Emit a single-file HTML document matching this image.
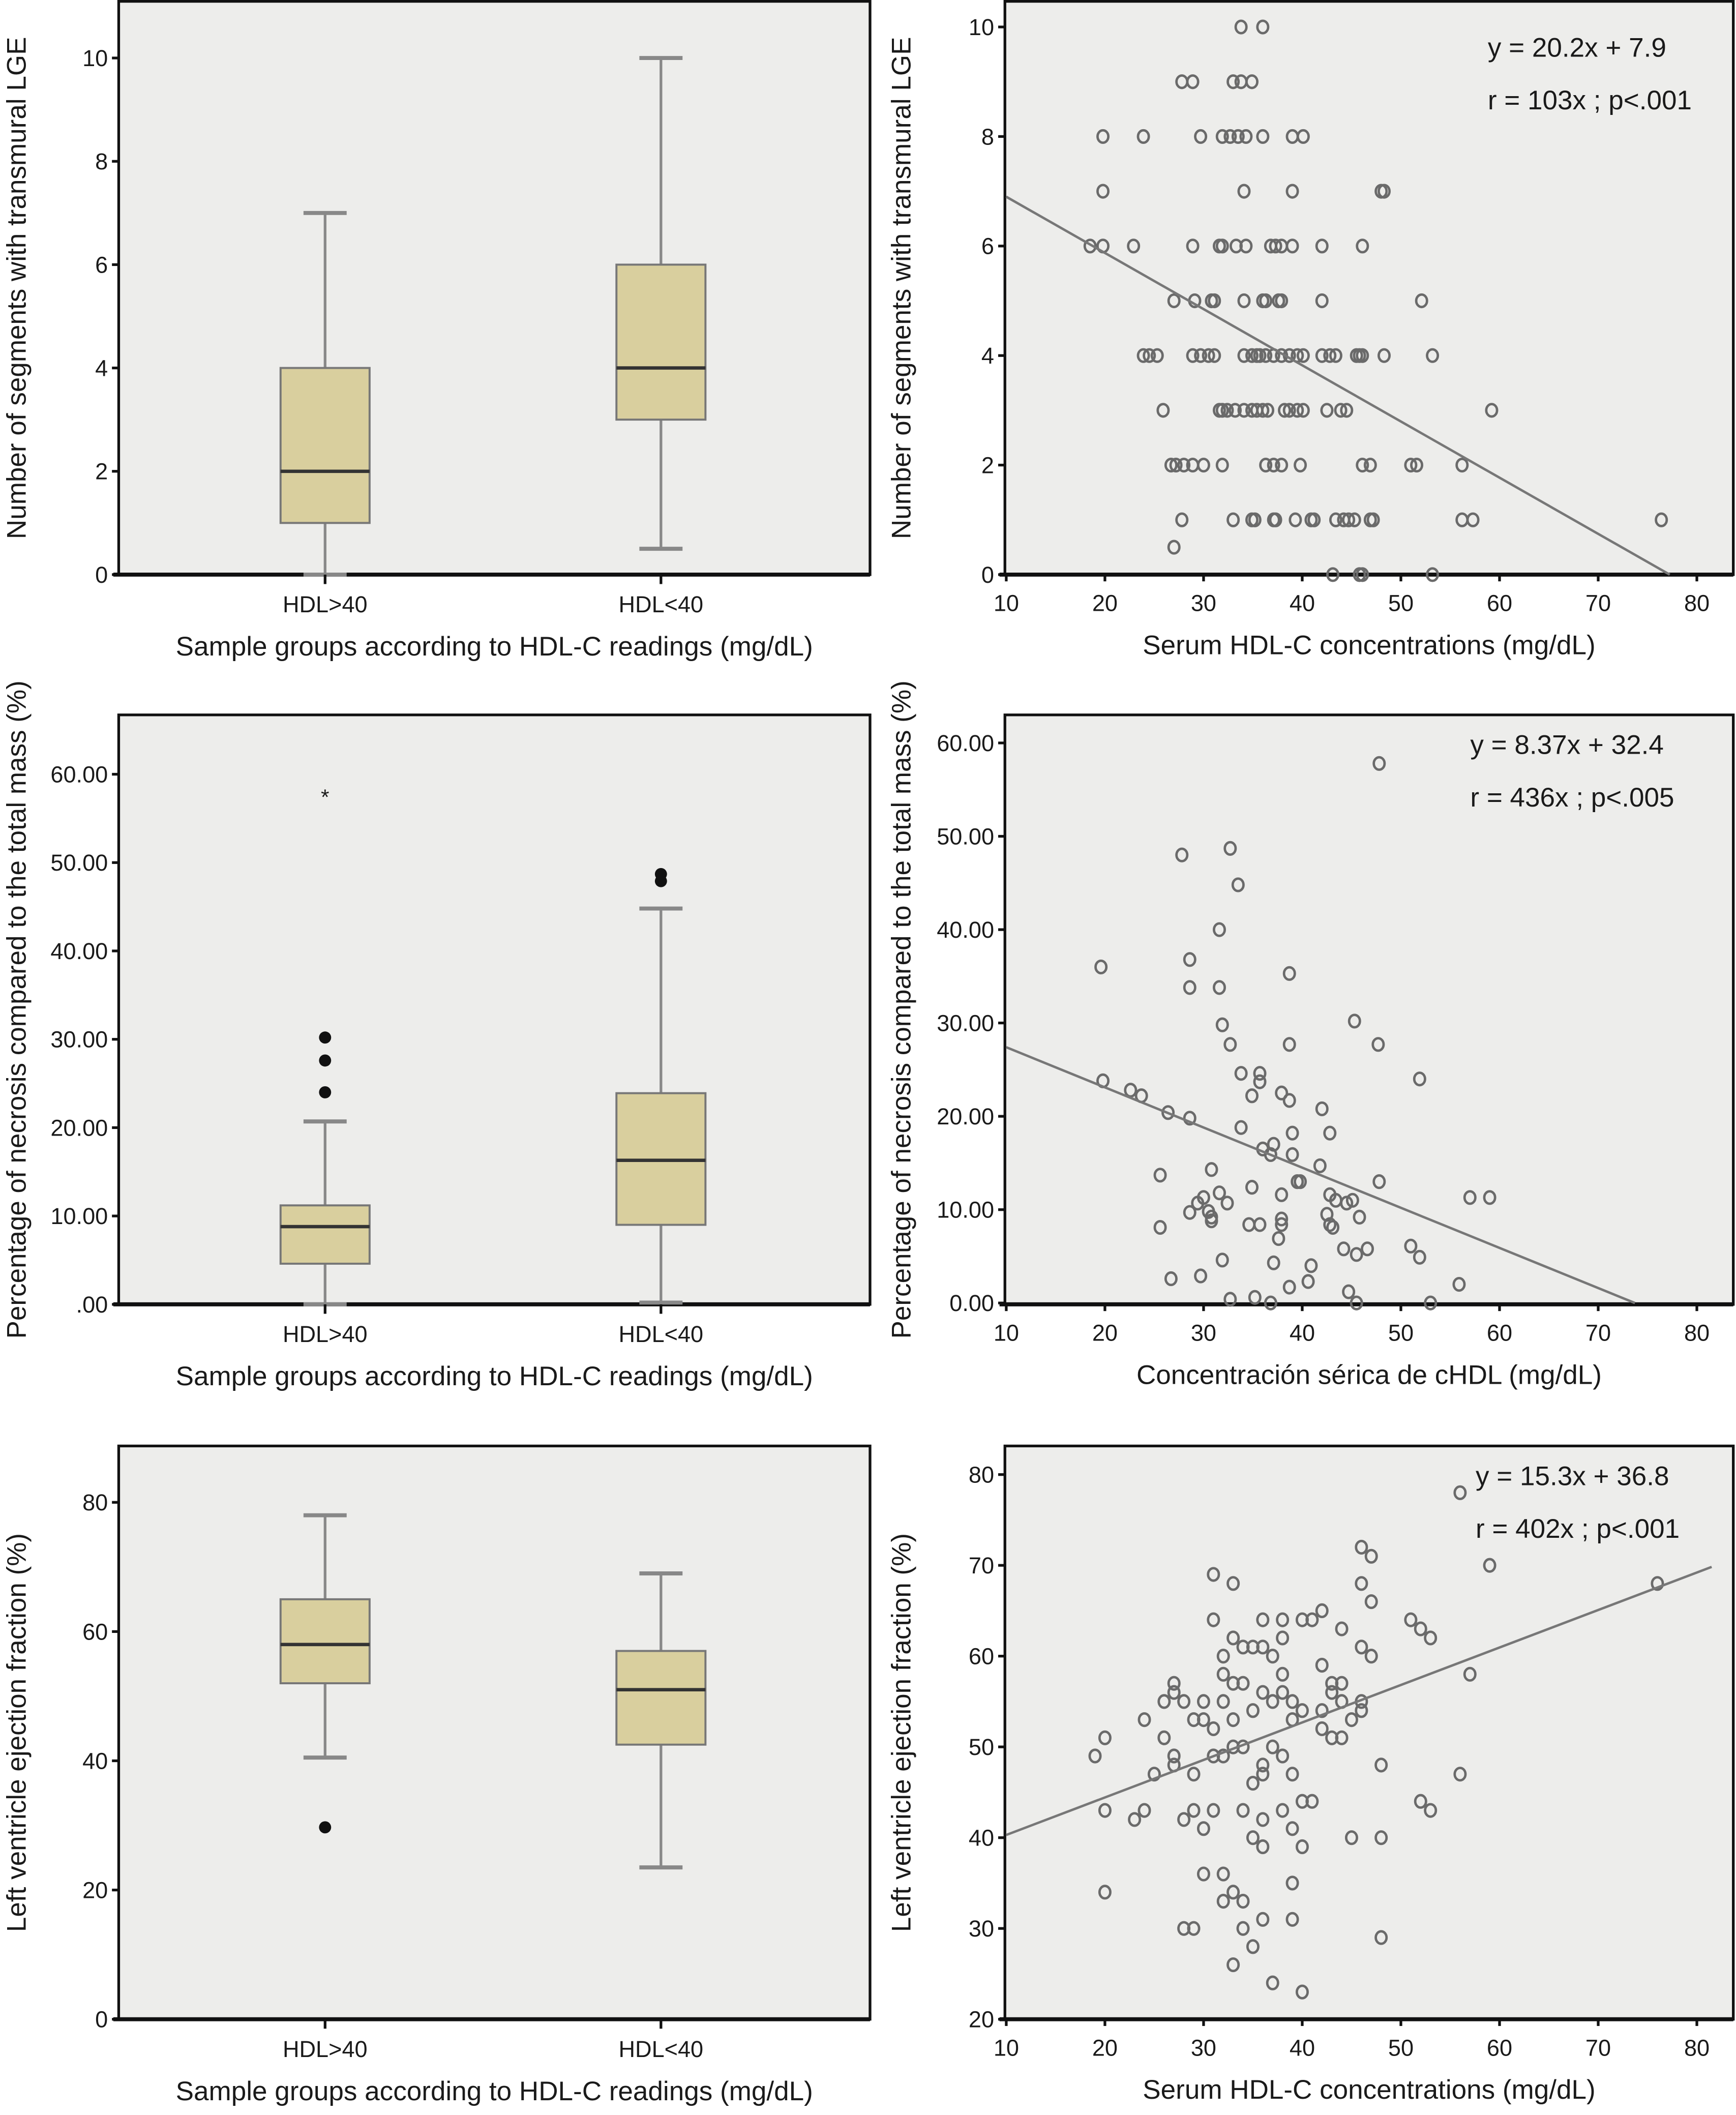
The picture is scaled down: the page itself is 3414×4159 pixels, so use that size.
<!DOCTYPE html>
<html><head><meta charset="utf-8"><style>
html,body{margin:0;padding:0;background:#fff;}
svg{display:block;}
text{font-family:"Liberation Sans",sans-serif;fill:#1a1a1a;}
</style></head>
<body>
<svg id="fig" width="3414" height="4159" viewBox="0 0 1287 1568" preserveAspectRatio="none" xmlns="http://www.w3.org/2000/svg"></svg>
<script>
// ---- Panel A: box plot LGE segments ----
const boxCats = ["HDL>40", "HDL<40"];
const lgeMin = [0, 0.5];
const lgeQ1 = [1, 3];
const lgeMed = [2, 4];
const lgeQ3 = [4, 6];
const lgeMax = [7, 10];
const lgeTicks = [0, 2, 4, 6, 8, 10];

// ---- Panel C: box plot necrosis ----
const necMin = [0, 0.2];
const necQ1 = [4.6, 9];
const necMed = [8.8, 16.3];
const necQ3 = [11.2, 23.9];
const necMax = [20.7, 44.8];
const necOutX = [0, 0, 0, 1, 1];
const necOutY = [24, 27.6, 30.2, 47.9, 48.7];
const necStarX = [0];
const necStarY = [57.8];
const necTicks = [0, 10, 20, 30, 40, 50, 60];
const necTickLabels = [".00", "10.00", "20.00", "30.00", "40.00", "50.00", "60.00"];

// ---- Panel E: box plot LVEF ----
const efMin = [40.5, 23.5];
const efQ1 = [52, 42.5];
const efMed = [58, 51];
const efQ3 = [65, 57];
const efMax = [78, 69];
const efOutX = [0];
const efOutY = [29.7];
const efTicks = [0, 20, 40, 60, 80];

// ---- Panel B: scatter LGE ----
const xTicks = [10, 20, 30, 40, 50, 60, 70, 80];
const lgeX = [33.8,36.0, 27.8,28.9,33.0,33.8,34.9,
 19.8,23.9,29.7,31.9,32.7,33.5,34.3,36.0,39.0,40.1,
 19.8,34.1,39.0,48.0,48.3,
 18.5,19.8,22.9,28.9,31.6,31.9,33.3,34.3,36.8,37.3,37.9,39.0,42.0,46.1,
 27.0,29.1,30.8,31.1,34.1,36.0,36.3,37.6,37.9,42.0,52.1,
 23.9,24.5,25.3,28.9,29.7,30.5,31.1,34.1,34.9,35.4,35.7,36.3,37.1,37.9,38.7,39.5,40.1,42.0,42.8,43.4,45.5,45.8,46.1,48.3,53.2,
 25.9,31.6,31.9,32.4,33.2,34.1,34.9,35.4,36.0,36.5,38.2,38.7,39.5,40.1,42.5,43.9,44.5,59.2,
 26.7,27.2,28.0,28.9,30.0,31.9,36.3,37.1,37.9,39.8,46.1,46.9,51.0,51.6,56.2,
 27.8,33.0,34.9,35.2,37.1,37.3,39.3,40.9,41.2,43.4,44.2,44.7,45.3,46.9,47.2,56.2,57.3,76.4,
 27.0, 43.1,45.8,46.1,53.2];
const lgeY = [10,10, 9,9,9,9,9,
 8,8,8,8,8,8,8,8,8,8,
 7,7,7,7,7,
 6,6,6,6,6,6,6,6,6,6,6,6,6,6,
 5,5,5,5,5,5,5,5,5,5,5,
 4,4,4,4,4,4,4,4,4,4,4,4,4,4,4,4,4,4,4,4,4,4,4,4,4,
 3,3,3,3,3,3,3,3,3,3,3,3,3,3,3,3,3,3,
 2,2,2,2,2,2,2,2,2,2,2,2,2,2,2,
 1,1,1,1,1,1,1,1,1,1,1,1,1,1,1,1,1,1,
 0.5, 0,0,0,0];
const lgeFit = [6.9, -0.1026];

// ---- Panel D: scatter necrosis ----
const necSX = [19.6,19.8,22.6,23.7,27.8,28.6,28.6,26.4,28.6,31.6,31.6,31.9,32.7,32.7,33.5,33.8,35.7,35.7,34.9,38.7,38.7,37.9,38.7,42,42.8,45.3,47.7,51.9,33.8,36,36.8,37.1,39,39,39.5,39.8,41.8,25.6,30.8,34.9,37.9,29.4,30,30.5,30.8,30.8,28.6,31.6,32.4,34.6,35.7,37.9,37.9,37.6,42.8,43.4,44.5,45.1,42.5,42.8,43.1,45.8,46.6,45.5,47.8,44.2,37.1,40.9,31.9,25.6,26.7,29.7,38.7,40.6,32.7,35.2,36.8,44.7,45.5,51,51.9,55.9,57,59,47.8,53];
const necSY = [36,23.8,22.8,22.2,48,36.8,33.8,20.4,19.8,40,33.8,29.8,27.7,48.7,44.8,24.6,24.6,23.7,22.2,35.3,27.7,22.5,21.7,20.8,18.2,30.2,27.7,24,18.8,16.5,15.9,17,18.2,15.9,13,13,14.7,13.7,14.3,12.4,11.6,10.7,11.3,9.8,9.2,8.8,9.7,11.8,10.7,8.4,8.4,9,8.4,6.9,11.6,11,10.7,11,9.5,8.4,8.1,9.2,5.8,5.2,13,5.8,4.3,4,4.6,8.1,2.6,2.9,1.7,2.3,0.4,0.6,0,1.2,0,6.1,4.9,2,11.3,11.3,57.8,0];
const necYTicks = [0,10,20,30,40,50,60];
const necYTickLabels = ["0.00","10.00","20.00","30.00","40.00","50.00","60.00"];
const necFit = [27.4, -0.43];

// ---- Panel F: scatter LVEF ----
const efSX = [19,20,20,20,23,24,24,25,26,26,27,27,27,27,28,28,28,29,29,29,29,30,30,30,30,31,31,31,31,31,32,32,32,32,32,32,33,33,33,33,33,33,33,34,34,34,34,34,34,35,35,35,35,35,36,36,36,36,36,36,36,36,37,37,37,37,38,38,38,38,38,38,39,39,39,39,39,39,40,40,40,40,40,41,41,42,42,42,42,43,43,43,44,44,44,44,45,45,46,46,46,46,46,47,47,47,48,48,48,51,52,52,53,53,56,56,57,59,76];
const efSY = [49,51,43,34,42,43,53,47,51,55,57,56,49,48,55,42,30,30,53,47,43,55,53,41,36,52,49,43,69,64,60,58,55,49,36,33,68,62,57,53,50,34,26,61,57,50,43,33,30,61,54,46,40,28,64,61,56,48,47,42,39,31,60,55,50,24,64,62,58,56,49,43,55,53,47,41,35,31,64,54,44,39,23,64,44,65,59,52,54,57,56,51,63,57,55,51,53,40,72,68,61,55,54,71,66,60,48,40,29,64,63,44,62,43,78,47,58,70,68];
const efYTicks = [20,30,40,50,60,70,80];
const efFit = [40.3, 0.413];

const svg = document.getElementById('fig');
const NS = "http://www.w3.org/2000/svg";
function mk(tag, attrs, parent) {
  const e = document.createElementNS(NS, tag);
  for (const k in attrs) e.setAttribute(k, attrs[k]);
  (parent || svg).appendChild(e);
  return e;
}
function txt(s, x, y, size, anchor, parent, rot) {
  const t = mk('text', {x: x, y: y, 'font-size': size, 'text-anchor': anchor || 'middle'}, parent);
  if (rot) t.setAttribute('transform', 'rotate(-90 ' + x + ' ' + y + ')');
  t.textContent = s;
  return t;
}
function frame(name, x0, y0, x1, y1) {
  const g = mk('g', {});
  
  
  const bg = mk('rect', {x: x0, y: y0, width: x1 - x0, height: y1 - y0, fill: '#ededeb', stroke: '#111', 'stroke-width': 2}, g);
  
  
  mk('line', {x1: x0 - 4, y1: y1, x2: x1, y2: y1, stroke: '#111', 'stroke-width': 3}, g);
  return g;
}
function yAxis(g, x0, ticks, labels, ys) {
  const ax = mk('g', {}, g);
  
  
  ticks.forEach((v, i) => {
    const y = ys(v);
    mk('line', {x1: x0 - 5, y1: y, x2: x0, y2: y, stroke: '#111', 'stroke-width': 2}, ax);
    const t = txt(labels ? labels[i] : String(v), x0 - 8, y + 6, 17, 'end', ax);
    
    
  });
}
function xAxisNum(g, y1, xs) {
  const ax = mk('g', {}, g);
  
  
  xTicks.forEach(v => {
    const x = xs(v);
    mk('line', {x1: x, y1: y1, x2: x, y2: y1 + 5, stroke: '#111', 'stroke-width': 2}, ax);
    const t = txt(String(v), x, y1 + 27, 17, 'middle', ax);
    
    
  });
}
function boxPanel(name, x0, y0, x1, y1, ys, mins, q1, med, q3, maxs, ticks, tickLabels, ytitle, centers) {
  const g = frame(name, x0, y0, x1, y1);
  yAxis(g, x0, ticks, tickLabels, ys);
  boxCats.forEach((c, i) => {
    const cx = centers[i], hw = 33;
    const bg = mk('g', {}, g);
    
    
    mk('line', {x1: cx, y1: ys(maxs[i]), x2: cx, y2: ys(mins[i]), stroke: '#888', 'stroke-width': 2}, bg);
    mk('line', {x1: cx - 16, y1: ys(maxs[i]), x2: cx + 16, y2: ys(maxs[i]), stroke: '#888', 'stroke-width': 3}, bg);
    mk('line', {x1: cx - 16, y1: ys(mins[i]), x2: cx + 16, y2: ys(mins[i]), stroke: '#888', 'stroke-width': 3}, bg);
    mk('rect', {x: cx - hw, y: ys(q3[i]), width: 2 * hw, height: ys(q1[i]) - ys(q3[i]), fill: '#d9cf9e', stroke: '#777', 'stroke-width': 1.5}, bg);
    mk('line', {x1: cx - hw, y1: ys(med[i]), x2: cx + hw, y2: ys(med[i]), stroke: '#333', 'stroke-width': 2.5}, bg);
    mk('line', {x1: cx, y1: y1, x2: cx, y2: y1 + 7, stroke: '#111', 'stroke-width': 2}, g);
    const t = txt(c, cx, y1 + 28, 17, 'middle', g);
    
    
  });
  const xt = txt('Sample groups according to HDL-C readings (mg/dL)', (x0 + x1) / 2, y1 + 60, 20, 'middle', g);
  
  
  const yt = txt(ytitle, 19, (y0 + y1) / 2, 20, 'middle', g, true);
  
  
  return g;
}
function scatterPanel(name, x0, y0, x1, y1, xs, ys, px, py, ticks, tickLabels, ytitle, xtitle, fit, eq1, eq2, eqx, eqy) {
  const g = frame(name, x0, y0, x1, y1);
  yAxis(g, x0, ticks, tickLabels, ys);
  xAxisNum(g, y1, xs);
  const pts = mk('g', {}, g);
  
  
  px.forEach((v, i) => {
    const c = mk('ellipse', {cx: xs(v), cy: ys(py[i]), rx: 4, ry: 4.6, fill: 'none', stroke: '#6a6a6a', 'stroke-width': 1.8}, pts);
    
    
  });
  const f = v => fit[0] + fit[1] * (v - 10);
  let xa = 10, xb = 81.5;
  if (fit[1] < 0) xb = Math.min(xb, 10 - fit[0] / fit[1]);
  const ln = mk('line', {x1: xs(xa), y1: ys(f(xa)), x2: xs(xb), y2: ys(f(xb)), stroke: '#777', 'stroke-width': 1.8}, g);
  
  
  const e1 = txt(eq1, eqx, eqy, 20, 'start', g);
  
  
  const e2 = txt(eq2, eqx, eqy + 39, 20, 'start', g);
  
  
  const xt = txt(xtitle, (x0 + x1) / 2, y1 + 59, 20, 'middle', g);
  
  
  const yt = txt(ytitle, 675, (y0 + y1) / 2, 20, 'middle', g, true);
  
  
}
const xsR = v => 746 + (v - 10) * 7.314;
const centersL = [241, 490];

const ysA = v => 426 - v * 38.3;
boxPanel('lge-boxplot', 88, 1, 645, 426, ysA, lgeMin, lgeQ1, lgeMed, lgeQ3, lgeMax, lgeTicks, null, 'Number of segments with transmural LGE', centersL);
const ysB = v => 426 - v * 40.6;
scatterPanel('lge-scatter', 745, 1, 1285, 426, xsR, ysB, lgeX, lgeY, lgeTicks, null, 'Number of segments with transmural LGE', 'Serum HDL-C concentrations (mg/dL)', lgeFit, 'y = 20.2x + 7.9', 'r = 103x ; p<.001', 1103, 42);
const ysC = v => 967 - v * 6.55;
const gC = boxPanel('necrosis-boxplot', 88, 530, 645, 967, ysC, necMin, necQ1, necMed, necQ3, necMax, necTicks, necTickLabels, 'Percentage of necrosis compared to the total mass (%)', centersL);
necOutX.forEach((ci, i) => {
  const d = mk('ellipse', {cx: centersL[ci], cy: ysC(necOutY[i]), rx: 4.5, ry: 4.5, fill: '#111'}, gC);
  
  
});
necStarX.forEach((ci, i) => {
  const s = txt('*', centersL[ci], ysC(necStarY[i]) + 8, 16, 'middle', gC);
  
  
});
const ysD = v => 966 - v * 6.92;
scatterPanel('necrosis-scatter', 745, 530, 1285, 967, xsR, ysD, necSX, necSY, necYTicks, necYTickLabels, 'Percentage of necrosis compared to the total mass (%)', 'Concentración sérica de cHDL (mg/dL)', necFit, 'y = 8.37x + 32.4', 'r = 436x ; p<.005', 1090, 559);
const ysE = v => 1497 - v * 4.79;
const gE = boxPanel('lvef-boxplot', 88, 1072, 645, 1497, ysE, efMin, efQ1, efMed, efQ3, efMax, efTicks, null, 'Left ventricle ejection fraction (%)', centersL);
efOutX.forEach((ci, i) => {
  const d = mk('ellipse', {cx: centersL[ci], cy: ysE(efOutY[i]), rx: 4.5, ry: 4.5, fill: '#111'}, gE);
  
  
});
const ysF = v => 1497 - (v - 20) * 6.73;
scatterPanel('lvef-scatter', 745, 1072, 1285, 1497, xsR, ysF, efSX, efSY, efYTicks, null, 'Left ventricle ejection fraction (%)', 'Serum HDL-C concentrations (mg/dL)', efFit, 'y = 15.3x + 36.8', 'r = 402x ; p<.001', 1094, 1101);
</script>
</body></html>
